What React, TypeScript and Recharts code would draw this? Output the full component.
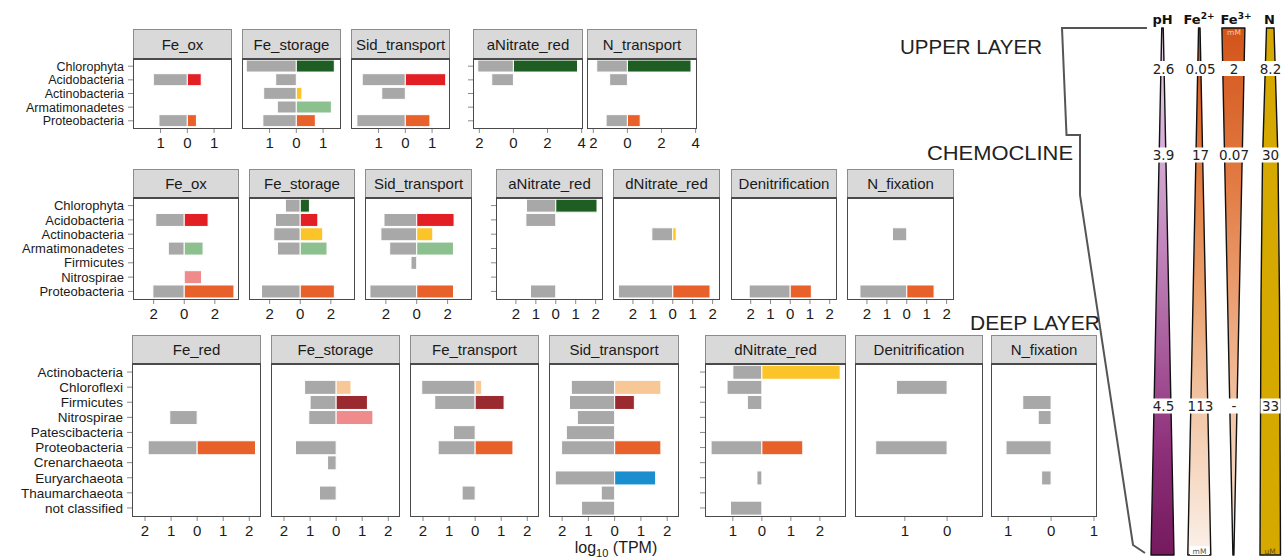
import React from "react";
import { BarChart, Bar, XAxis, YAxis, Cell } from "recharts";

// taxa per depth layer (top to bottom in each facet row)
const upperTaxa = ["Chlorophyta", "Acidobacteria", "Actinobacteria", "Armatimonadetes", "Proteobacteria"];
const chemoTaxa = ["Chlorophyta", "Acidobacteria", "Actinobacteria", "Armatimonadetes", "Firmicutes", "Nitrospirae", "Proteobacteria"];
const deepTaxa = [
  "Actinobacteria", "Chloroflexi", "Firmicutes", "Nitrospirae", "Patescibacteria",
  "Proteobacteria", "Crenarchaeota", "Euryarchaeota", "Thaumarchaeota", "not classified",
];

// log10(TPM): gray = left side (negative), color = right side
const upperFeOxGray = [null, -1.27, null, null, -1.06];
const upperFeOxColor = [null, 0.52, null, null, 0.34];
const upperFeStorageGray = [-1.87, -0.77, -1.22, -0.71, -1.25];
const upperFeStorageColor = [1.42, null, 0.21, 1.31, 0.71];
const upperSidGray = [null, -1.61, -0.88, null, -1.81];
const upperSidColor = [null, 1.51, null, null, 0.92];
const upperANitGray = [-2.09, -1.27, null, null, null];
const upperANitColor = [3.76, null, null, null, null];
const upperNTransGray = [-1.8, -1.04, null, null, -1.25];
const upperNTransColor = [3.73, null, null, null, 0.75];

const chemoFeOxGray = [null, -1.86, null, -1.04, null, null, -2.05];
const chemoFeOxColor = [null, 1.56, null, 1.23, null, 1.13, 3.25];
const chemoFeStorageGray = [-0.97, -1.62, -1.73, -1.49, null, null, -2.53];
const chemoFeStorageColor = [0.6, 1.15, 1.47, 1.75, null, null, 2.23];
const chemoSidGray = [null, -2.12, -2.32, -1.75, -0.37, null, -3.03];
const chemoSidColor = [null, 2.42, 1.04, 2.38, null, null, 2.38];
const chemoANitGray = [-1.47, -1.5, null, null, null, null, -1.27];
const chemoANitColor = [2.07, null, null, null, null, null, null];
const chemoDNitGray = [null, null, -1.05, null, null, null, -2.73];
const chemoDNitColor = [null, null, 0.17, null, null, null, 1.87];
const chemoDenitGray = [null, null, null, null, null, null, -2.08];
const chemoDenitColor = [null, null, null, null, null, null, 1.07];
const chemoNFixGray = [null, null, -0.72, null, null, null, -2.35];
const chemoNFixColor = [null, null, null, null, null, null, 1.37];

const deepFeRedGray = [null, null, null, -1.05, null, -1.88, null, null, null, null];
const deepFeRedColor = [null, null, null, null, null, 2.24, null, null, null, null];
const deepFeStorageGray = [null, -1.21, -1.0, -1.05, null, -1.56, -0.33, null, -0.64, null];
const deepFeStorageColor = [null, 0.57, 1.2, 1.41, null, null, null, null, null, null];
const deepFeTransGray = [null, -2.05, -1.55, null, -0.83, -1.42, null, null, -0.5, null];
const deepFeTransColor = [null, 0.25, 1.11, null, null, 1.45, null, null, null, null];
const deepSidGray = [null, -1.65, -1.72, -1.42, -1.84, -2.02, null, -2.26, -0.51, -1.26];
const deepSidColor = [null, 1.76, 0.75, null, null, 1.76, null, 1.56, null, null];
const deepDNitGray = [-1.0, -1.2, -0.5, null, null, -1.75, null, -0.17, null, -1.08];
const deepDNitColor = [2.7, null, null, null, null, 1.41, null, null, null, null];
const deepDenitGray = [null, -1.2, null, null, null, -1.69, null, null, null, null];
const deepDenitColor = [null, null, null, null, null, null, null, null, null, null];
const deepNFixGray = [null, null, -0.66, -0.3, null, -1.05, null, -0.22, null, null];
const deepNFixColor = [null, null, null, null, null, null, null, null, null, null];

// tick values
const upperFeTicks = [-1, 0, 1];
const upperNTicks = [-2, 0, 2, 4];
const chemoFeTicks = [-2, 0, 2];
const chemoNTicks = [-2, -1, 0, 1, 2];
const deepFeTicks = [-2, -1, 0, 1, 2];
const deepDNitTicks = [-1, 0, 1, 2];
const deepDenitTicks = [-1, 0];
const deepNFixTicks = [-1, 0, 1];

// right-hand schematic
const layerNames = ["UPPER LAYER", "CHEMOCLINE", "DEEP LAYER"];
const phValues = ["2.6", "3.9", "4.5"];
const fe2Values = ["0.05", "17", "113"];
const fe3Values = ["2", "0.07", "-"];
const nValues = ["8.2", "30", "33"];

const taxonColors: Record<string, string> = {
  Chlorophyta: "#1e5e22",
  Acidobacteria: "#e31f26",
  Actinobacteria: "#fbc52a",
  Armatimonadetes: "#8cc08e",
  Nitrospirae: "#ef8b8b",
  Proteobacteria: "#e8602a",
  Chloroflexi: "#f7c796",
  Firmicutes: "#9a2a30",
  Euryarchaeota: "#1a8ecf",
};

const FONT = '"Liberation Sans", Arial, Helvetica, sans-serif';
const TEXT = "#1a1a1a";

type Val = number | null;
type PanelSpec = {
  title: string;
  gray: Val[];
  color: Val[];
  ticks: number[];
  domain: [number, number];
  x: number;
  w: number;
  axis: "labels" | "ticks" | "none";
};
type RowSpec = { top: number; headerH: number; plotH: number; labelSize: number; taxa: string[]; panels: PanelSpec[] };

const rows: RowSpec[] = [
  {
    top: 29, headerH: 29, plotH: 71, labelSize: 12.5, taxa: upperTaxa,
    panels: [
      { title: "Fe_ox", gray: upperFeOxGray, color: upperFeOxColor, ticks: upperFeTicks, domain: [-2.03, 1.67], x: 133, w: 99, axis: "labels" },
      { title: "Fe_storage", gray: upperFeStorageGray, color: upperFeStorageColor, ticks: upperFeTicks, domain: [-2.03, 1.67], x: 242, w: 99, axis: "none" },
      { title: "Sid_transport", gray: upperSidGray, color: upperSidColor, ticks: upperFeTicks, domain: [-2.03, 1.67], x: 351, w: 99, axis: "none" },
      { title: "aNitrate_red", gray: upperANitGray, color: upperANitColor, ticks: upperNTicks, domain: [-2.37, 4.08], x: 473, w: 110, axis: "ticks" },
      { title: "N_transport", gray: upperNTransGray, color: upperNTransColor, ticks: upperNTicks, domain: [-2.37, 4.08], x: 587, w: 110, axis: "none" },
    ],
  },
  {
    top: 169, headerH: 28, plotH: 103, labelSize: 13, taxa: chemoTaxa,
    panels: [
      { title: "Fe_ox", gray: chemoFeOxGray, color: chemoFeOxColor, ticks: chemoFeTicks, domain: [-3.35, 3.58], x: 133, w: 106, axis: "labels" },
      { title: "Fe_storage", gray: chemoFeStorageGray, color: chemoFeStorageColor, ticks: chemoFeTicks, domain: [-3.35, 3.58], x: 249, w: 106, axis: "none" },
      { title: "Sid_transport", gray: chemoSidGray, color: chemoSidColor, ticks: chemoFeTicks, domain: [-3.35, 3.58], x: 365, w: 107, axis: "none" },
      { title: "aNitrate_red", gray: chemoANitGray, color: chemoANitColor, ticks: chemoNTicks, domain: [-3.0, 2.37], x: 496, w: 107, axis: "ticks" },
      { title: "dNitrate_red", gray: chemoDNitGray, color: chemoDNitColor, ticks: chemoNTicks, domain: [-3.0, 2.37], x: 613, w: 107, axis: "none" },
      { title: "Denitrification", gray: chemoDenitGray, color: chemoDenitColor, ticks: chemoNTicks, domain: [-3.0, 2.37], x: 731, w: 106, axis: "none" },
      { title: "N_fixation", gray: chemoNFixGray, color: chemoNFixColor, ticks: chemoNTicks, domain: [-3.0, 2.37], x: 847, w: 107, axis: "none" },
    ],
  },
  {
    top: 335, headerH: 28, plotH: 154, labelSize: 13.5, taxa: deepTaxa,
    panels: [
      { title: "Fe_red", gray: deepFeRedGray, color: deepFeRedColor, ticks: deepFeTicks, domain: [-2.5, 2.45], x: 132, w: 129, axis: "labels" },
      { title: "Fe_storage", gray: deepFeStorageGray, color: deepFeStorageColor, ticks: deepFeTicks, domain: [-2.5, 2.45], x: 271, w: 129, axis: "none" },
      { title: "Fe_transport", gray: deepFeTransGray, color: deepFeTransColor, ticks: deepFeTicks, domain: [-2.5, 2.45], x: 410, w: 129, axis: "none" },
      { title: "Sid_transport", gray: deepSidGray, color: deepSidColor, ticks: deepFeTicks, domain: [-2.5, 2.45], x: 549, w: 130, axis: "none" },
      { title: "dNitrate_red", gray: deepDNitGray, color: deepDNitColor, ticks: deepDNitTicks, domain: [-1.96, 2.9], x: 705, w: 141, axis: "ticks" },
      { title: "Denitrification", gray: deepDenitGray, color: deepDenitColor, ticks: deepDenitTicks, domain: [-2.18, 0.85], x: 855, w: 128, axis: "none" },
      { title: "N_fixation", gray: deepNFixGray, color: deepNFixColor, ticks: deepNFixTicks, domain: [-1.4, 1.07], x: 991, w: 106, axis: "none" },
    ],
  },
];

function Panel({ spec, row }: { spec: PanelSpec; row: RowSpec }) {
  const yW = spec.axis === "labels" ? 120 : spec.axis === "ticks" ? 7 : 0;
  const side = 12;
  const xH = 28;
  const band = row.plotH / (row.taxa.length + 0.2);
  const pad = band * 0.1;
  const data = row.taxa.map((name, i) => ({ name, gray: spec.gray[i], color: spec.color[i] }));
  const plotTop = row.top + row.headerH;
  return (
    <>
      <div
        style={{
          position: "absolute", left: spec.x, top: row.top, width: spec.w, height: row.headerH,
          boxSizing: "border-box", background: "#d9d9d9", border: "1px solid #8c8c8c", borderBottom: "none",
          display: "flex", alignItems: "center", justifyContent: "center", fontSize: 15, color: TEXT,
        }}
      >
        {spec.title}
      </div>
      <div style={{ position: "absolute", left: spec.x - yW - side, top: plotTop }}>
        <BarChart
          width={side + yW + spec.w + side}
          height={row.plotH + xH}
          data={data}
          layout="vertical"
          stackOffset="sign"
          barCategoryGap="5%"
          margin={{ top: 0, right: side, bottom: 0, left: side }}
        >
          <XAxis
            type="number"
            domain={spec.domain}
            ticks={spec.ticks}
            interval={0}
            allowDataOverflow
            tickFormatter={(v: number) => String(Math.abs(v))}
            height={xH}
            axisLine={false}
            tickSize={4}
            tickMargin={4}
            tickLine={{ stroke: "#8a8a8a" }}
            tick={{ fontSize: 15, fill: TEXT }}
          />
          <YAxis
            type="category"
            dataKey="name"
            width={yW}
            hide={spec.axis === "none"}
            padding={{ top: pad, bottom: pad }}
            interval={0}
            axisLine={false}
            tickSize={5}
            tickMargin={4}
            tickLine={{ stroke: "#8a8a8a" }}
            tickFormatter={spec.axis === "labels" ? undefined : () => ""}
            tick={{ fontSize: row.labelSize, fill: TEXT }}
          />
          <Bar dataKey="gray" stackId="s" fill="#a8a8a8" stroke="#ffffff" strokeWidth={1} isAnimationActive={false} />
          <Bar dataKey="color" stackId="s" stroke="#ffffff" strokeWidth={1} isAnimationActive={false}>
            {data.map((d) => (
              <Cell key={d.name} fill={taxonColors[d.name] || "#a8a8a8"} />
            ))}
          </Bar>
        </BarChart>
      </div>
      <div
        style={{
          position: "absolute", left: spec.x, top: plotTop, width: spec.w, height: row.plotH,
          boxSizing: "border-box", border: "1.5px solid #4a4a4a", borderTopWidth: 2, pointerEvents: "none",
        }}
      />
    </>
  );
}

const WEDGE_TOP = 28;
const WEDGE_BOTTOM = 555;
const labelRowsY = [68.5, 155, 406];

function widthAt(topW: number, bottomW: number, y: number) {
  return topW + ((bottomW - topW) * (y - WEDGE_TOP)) / (WEDGE_BOTTOM - WEDGE_TOP);
}

function ValueLabel({ x, y, text, minW }: { x: number; y: number; text: string; minW: number }) {
  const w = Math.max(text.length * 8 + 4, minW);
  return (
    <g>
      <rect x={x - w / 2} y={y - 7.5} width={w} height={15} fill="#ffffff" />
      <text x={x} y={y} textAnchor="middle" dominantBaseline="central" fontSize={13.5} fill="#222" fontFamily='"DejaVu Sans", Verdana, sans-serif'>
        {text}
      </text>
    </g>
  );
}

function Schematic() {
  const cols = [
    { cx: 1162.5, topW: 1.5, botW: 23, fill: "url(#gPh)", values: phValues, lx: 1163.5 },
    { cx: 1199.3, topW: 1.5, botW: 23, fill: "url(#gFe2)", values: fe2Values, lx: 1200.5 },
    { cx: 1233.4, topW: 23, botW: 1, fill: "url(#gFe3)", values: fe3Values, lx: 1234 },
  ];
  const headFont = '"DejaVu Sans", Verdana, sans-serif';
  return (
    <svg width={1286} height={560} style={{ position: "absolute", left: 0, top: 0, pointerEvents: "none" }}>
      <defs>
        <linearGradient id="gPh" x1="0" y1="0" x2="0" y2="1">
          <stop offset="0" stopColor="#ead4ea" />
          <stop offset="0.25" stopColor="#d4a8d4" />
          <stop offset="0.55" stopColor="#b06aa6" />
          <stop offset="0.8" stopColor="#8e2f7a" />
          <stop offset="1" stopColor="#741a5d" />
        </linearGradient>
        <linearGradient id="gFe2" x1="0" y1="0" x2="0" y2="1">
          <stop offset="0" stopColor="#d4561b" />
          <stop offset="0.25" stopColor="#e27a3e" />
          <stop offset="0.5" stopColor="#eaa06e" />
          <stop offset="0.72" stopColor="#f2c6a6" />
          <stop offset="1" stopColor="#fbf1ea" />
        </linearGradient>
        <linearGradient id="gFe3" x1="0" y1="0" x2="0" y2="1">
          <stop offset="0" stopColor="#d2541a" />
          <stop offset="0.3" stopColor="#e27c44" />
          <stop offset="0.6" stopColor="#eeae86" />
          <stop offset="0.8" stopColor="#f4cfb5" />
          <stop offset="1" stopColor="#f8e2d3" />
        </linearGradient>
      </defs>

      <polyline
        points="1147,28 1062,28 1066.5,135 1080,135 1080,195 1133,545 1145,553"
        fill="none"
        stroke="#555"
        strokeWidth={2}
      />
      <text x={900} y={54} fontSize={20} fill="#222" fontFamily={FONT} textLength={142} lengthAdjust="spacingAndGlyphs">
        {layerNames[0]}
      </text>
      <text x={927} y={160} fontSize={20} fill="#222" fontFamily={FONT} textLength={146} lengthAdjust="spacingAndGlyphs">
        {layerNames[1]}
      </text>
      <text x={970} y={330} fontSize={20} fill="#222" fontFamily={FONT} textLength={130} lengthAdjust="spacingAndGlyphs">
        {layerNames[2]}
      </text>

      {cols.map((c, i) => (
        <polygon
          key={i}
          points={`${c.cx - c.topW / 2},${WEDGE_TOP} ${c.cx + c.topW / 2},${WEDGE_TOP} ${c.cx + c.botW / 2},${WEDGE_BOTTOM} ${c.cx - c.botW / 2},${WEDGE_BOTTOM}`}
          fill={c.fill}
          stroke="#111"
          strokeWidth={1.4}
          strokeLinejoin="round"
        />
      ))}
      <polygon
        points="1266.5,28 1274,28 1278,160 1279.5,300 1280.5,555 1260,555 1261,300 1262.5,160"
        fill="#d6a900"
        stroke="#111"
        strokeWidth={1.4}
      />

      {cols.map((c, i) =>
        c.values.map((v, j) => (
          <ValueLabel key={`${i}-${j}`} x={c.lx} y={labelRowsY[j]} text={v} minW={widthAt(c.topW, c.botW, labelRowsY[j]) + 3} />
        ))
      )}
      {nValues.map((v, j) => (
        <ValueLabel key={`n-${j}`} x={1270.5} y={labelRowsY[j]} text={v} minW={0} />
      ))}

      <text x={1162.5} y={24} textAnchor="middle" fontSize={13} fontWeight="bold" fill="#111" fontFamily={headFont}>pH</text>
      <text x={1199} y={24} textAnchor="middle" fontSize={13} fontWeight="bold" fill="#111" fontFamily={headFont}>
        Fe<tspan fontSize={9} dy={-5}>2+</tspan>
      </text>
      <text x={1236} y={24} textAnchor="middle" fontSize={13} fontWeight="bold" fill="#111" fontFamily={headFont}>
        Fe<tspan fontSize={9} dy={-5}>3+</tspan>
      </text>
      <text x={1269.5} y={24} textAnchor="middle" fontSize={13} fontWeight="bold" fill="#111" fontFamily={headFont}>N</text>

      <text x={1234} y={35} textAnchor="middle" fontSize={7.5} fill="#f6c8a8" fontFamily={headFont}>mM</text>
      <rect x={1190} y={546} width={19} height={9} fill="#ffffff" />
      <text x={1199.5} y={554} textAnchor="middle" fontSize={7.5} fill="#555" fontFamily={headFont}>mM</text>
      <text x={1270} y={554} textAnchor="middle" fontSize={7.5} fill="#6a5000" fontFamily={headFont}>µM</text>

      <text x={616} y={553} textAnchor="middle" fontSize={16} fill={TEXT} fontFamily={FONT}>
        log<tspan fontSize={11} dy={4}>10</tspan>
        <tspan dy={-4}> (TPM)</tspan>
      </text>
    </svg>
  );
}

export default function App() {
  return (
    <div
      style={{
        position: "fixed", left: 0, top: 0, width: 1286, height: 560, background: "#ffffff",
        overflow: "hidden", fontFamily: FONT,
      }}
    >
      {rows.map((row, ri) =>
        row.panels.map((p, pi) => <Panel key={`${ri}-${pi}`} spec={p} row={row} />)
      )}
      <Schematic />
    </div>
  );
}
